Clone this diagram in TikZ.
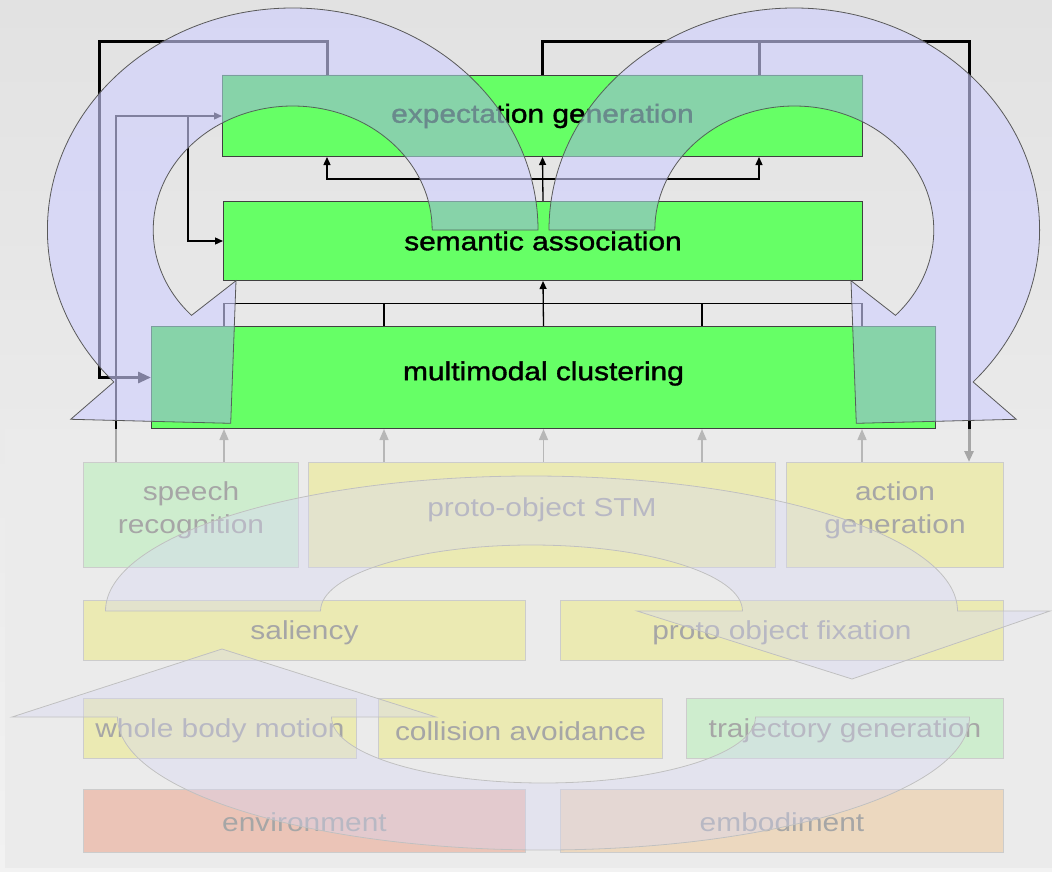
\documentclass[tikz,border=0pt]{standalone}
\usepackage{fontspec}
\newfontfamily\slidefont[FakeStretch=1.15]{Liberation Sans}
\newfontfamily\slidefontb[FakeStretch=1.15,FakeBold=1.4]{Liberation Sans}
\usetikzlibrary{arrows.meta,calc}

% colours (lower layer colours are given before the white veil fades them)
\definecolor{bgtop}{RGB}{226,226,226}
\definecolor{bgbot}{RGB}{242,242,242}
\definecolor{panelbase}{RGB}{200,200,200}
\definecolor{slidegreen}{RGB}{102,255,102}
\definecolor{lav}{RGB}{208,208,255}
\definecolor{lavtint}{RGB}{40,170,90}
\definecolor{lavlow}{RGB}{140,140,225}
\definecolor{ylw}{RGB}{200,197,40}
\definecolor{lgreen}{RGB}{117,206,117}
\definecolor{salmon}{RGB}{200,86,51}
\definecolor{peach}{RGB}{203,146,74}
\definecolor{lowedge}{RGB}{111,111,111}

% outlines of the two circular arrows
\newcommand\leftbandpath{($(lc)+(0:245.3 and 222)$)
  arc[start angle=0, end angle=223.2, x radius=245.3, y radius=222]
  -- (70.7,-419.3) -- (230.7,-423.3) -- (236,-280.7)
  -- ($(lc)+(223.5:139.5 and 124)$)
  arc[start angle=223.5, end angle=0, x radius=139.5, y radius=124] -- cycle}
\newcommand\rightbandpath{($(rc)+(180:245.3 and 222)$)
  arc[start angle=180, end angle=-43.2, x radius=245.3, y radius=222]
  -- (1016.3,-419.3) -- (856.3,-423.3) -- (851,-280.7)
  -- ($(rc)+(-43.5:139.5 and 124)$)
  arc[start angle=-43.5, end angle=180, x radius=139.5, y radius=124] -- cycle}

\begin{document}
\begin{tikzpicture}[x=1pt,y=1pt,
  font=\slidefont\fontsize{26}{33}\selectfont,
  upbox/.style={draw=black!75, line width=1pt, fill=slidegreen, inner sep=0pt,
                anchor=north west, text=black, font=\slidefontb\fontsize{26}{33}\selectfont},
  lowbox/.style={draw=lowedge, line width=1pt, inner sep=0pt, anchor=north west},
  lowtext/.style={align=center, text=black, inner sep=0pt},
  feedline/.style={line width=3pt, black},
  thinlink/.style={line width=1.3pt, black},
  graylink/.style={line width=1.5pt, black!80},
  tipsmall/.style={-{Triangle[length=8pt,width=7pt]}},
  tipbig/.style={-{Triangle[length=13pt,width=11pt]}},
  tipgray/.style={-{Triangle[length=11pt,width=9pt]}},
  bandup/.style={fill=lav, fill opacity=0.62, draw=black!65, line width=0.8pt},
  bandtint/.style={fill=lavtint, fill opacity=0.25},
  bandlow/.style={fill=lavlow, fill opacity=0.38, draw=black!70, line width=0.8pt}]

\useasboundingbox (0,0) rectangle (1052,-872);
\shade[top color=bgtop, bottom color=bgbot] (0,0) rectangle (1052,-872);

% column and row helpers
\coordinate (xa) at (116,0);
\coordinate (xb) at (188,0);
\coordinate (xc) at (224,0);
\coordinate (xd) at (327,0);
\coordinate (xe) at (384,0);
\coordinate (xf) at (702,0);
\coordinate (xg) at (759,0);
\coordinate (xh) at (862,0);
\coordinate (tl) at (99,-42);
\coordinate (tr) at (969,-42);
\coordinate (lc) at (292.7,-230);
\coordinate (rc) at (794.3,-230);

% ---------------- lower panel ----------------
\fill[panelbase] (5,-429) rectangle (1052,-868);

\node[lowbox, fill=lgreen, minimum width=215pt, minimum height=105pt,
      label={[lowtext, yshift=4.5pt]center:speech\\recognition}] (sr) at (83,-462) {};
\node[lowbox, fill=ylw, minimum width=467pt, minimum height=105pt,
      label={[lowtext, yshift=5pt]center:proto-object STM}] (stm) at (308,-462) {};
\node[lowbox, fill=ylw, minimum width=217pt, minimum height=105pt,
      label={[lowtext, yshift=4.5pt]center:action\\generation}] (ag) at (786,-462) {};
\node[lowbox, fill=ylw, minimum width=442pt, minimum height=60pt,
      label={[lowtext, yshift=-2.5pt]center:saliency}] (sal) at (83,-600) {};
\node[lowbox, fill=ylw, minimum width=443pt, minimum height=60pt,
      label={[lowtext, yshift=-2.5pt]center:proto object fixation}] (pof) at (560,-600) {};
\node[lowbox, fill=ylw, minimum width=273pt, minimum height=60pt,
      label={[lowtext, yshift=-2.5pt]center:whole body motion}] (wbm) at (83,-698) {};
\node[lowbox, fill=ylw, minimum width=284pt, minimum height=60pt,
      label={[lowtext, yshift=-2.5pt]center:collision avoidance}] (ca) at (378,-698) {};
\node[lowbox, fill=lgreen, minimum width=317pt, minimum height=60pt,
      label={[lowtext, yshift=-2.5pt]center:trajectory generation}] (tg) at (686,-698) {};
\node[lowbox, fill=salmon, minimum width=442pt, minimum height=63pt,
      label={[lowtext, yshift=-1pt]center:environment}] (env) at (83,-789) {};
\node[lowbox, fill=peach, minimum width=443pt, minimum height=63pt,
      label={[lowtext, yshift=-1pt]center:embodiment}] (emb) at (560,-789) {};

% upper U-turn arrow (points down onto proto object fixation)
\path[bandlow] (105.5,-611) arc[start angle=180, end angle=0, x radius=426, y radius=135]
  -- (1050,-611) -- (852,-679) -- (637,-611) -- (742.5,-611)
  arc[start angle=0, end angle=180, x radius=211, y radius=66] -- cycle;
% lower U-turn arrow (points up onto saliency)
\path[bandlow] (969.5,-717) arc[start angle=0, end angle=-180, x radius=426, y radius=133]
  -- (12,-717) -- (222,-649) -- (436,-717) -- (331.5,-717)
  arc[start angle=180, end angle=360, x radius=212, y radius=66] -- cycle;

% upper boxes (placed here so that the links can refer to them)
\node[upbox, minimum width=640pt, minimum height=81pt] (exp) at (222,-75) {expectation generation};
\node[upbox, minimum width=639pt, minimum height=79pt] (sem) at (223,-201) {semantic association};
\node[upbox, minimum width=784pt, minimum height=102pt] (mm) at (151,-326) {};

% inputs into multimodal clustering
\draw[graylink, tipgray] (sr.north -| xc) -- (mm.south -| xc);
\draw[graylink, tipgray] (stm.north -| xe) -- (mm.south -| xe);
\draw[graylink, tipgray] (stm.north -| mm.south) -- (mm.south);
\draw[graylink, tipgray] (stm.north -| xf) -- (mm.south -| xf);
\draw[graylink, tipgray] (ag.north -| xh) -- (mm.south -| xh);

% speech recognition feeds the two upper layers
\draw[thinlink, tipsmall] (sr.north -| xa) |- (exp.west);
\draw[thinlink, tipsmall] (xb |- exp.west) |- (sem.west);

% expectations drive action generation
\draw[feedline, tipgray] (exp.north) |- (tr) -- (ag.north -| tr);
\draw[feedline] (exp.north -| xg) -- (xg |- tr);

% white veil over the lower panel
\fill[white, opacity=0.65] (5,-429) rectangle (1052,-868);

% ---------------- upper layers ----------------
\draw[feedline, tipbig] (exp.north -| xd) |- (tl) |- (mm.west);

\coordinate (hubA) at ($(sem.north)!0.5!(exp.south)$);
\draw[thinlink, tipsmall] (sem.north) -- (exp.south);
\draw[thinlink, tipsmall] (hubA) -| (exp.south -| xd);
\draw[thinlink, tipsmall] (hubA) -| (exp.south -| xg);

\coordinate (hubB) at ($(mm.north)!0.5!(sem.south)$);
\draw[thinlink] (mm.north -| xc) |- (hubB -| xh) -- (mm.north -| xh);
\draw[thinlink] (mm.north -| xe) -- (hubB -| xe);
\draw[thinlink] (mm.north -| xf) -- (hubB -| xf);
\draw[thinlink, tipsmall] (mm.north) -- (sem.south);

% redraw upper boxes above their links
\node[upbox, minimum width=640pt, minimum height=81pt] at (222,-75) {expectation generation};
\node[upbox, minimum width=639pt, minimum height=79pt] at (223,-201) {semantic association};
\node[upbox, minimum width=784pt, minimum height=102pt,
      label={[text=black, inner sep=0pt, yshift=4pt, font=\slidefontb\fontsize{26}{33}\selectfont]center:multimodal clustering}]
      at (151,-326) {};

% circular arrows
\path[bandup] \leftbandpath;
\path[bandup] \rightbandpath;
% deeper tint where the arrows lie over the green boxes
\begin{scope}
  \clip (exp.south west) rectangle (exp.north east)
        (sem.south west) rectangle (sem.north east)
        (mm.south west) rectangle (mm.north east);
  \fill[bandtint] \leftbandpath;
  \fill[bandtint] \rightbandpath;
\end{scope}
\end{tikzpicture}
\end{document}
